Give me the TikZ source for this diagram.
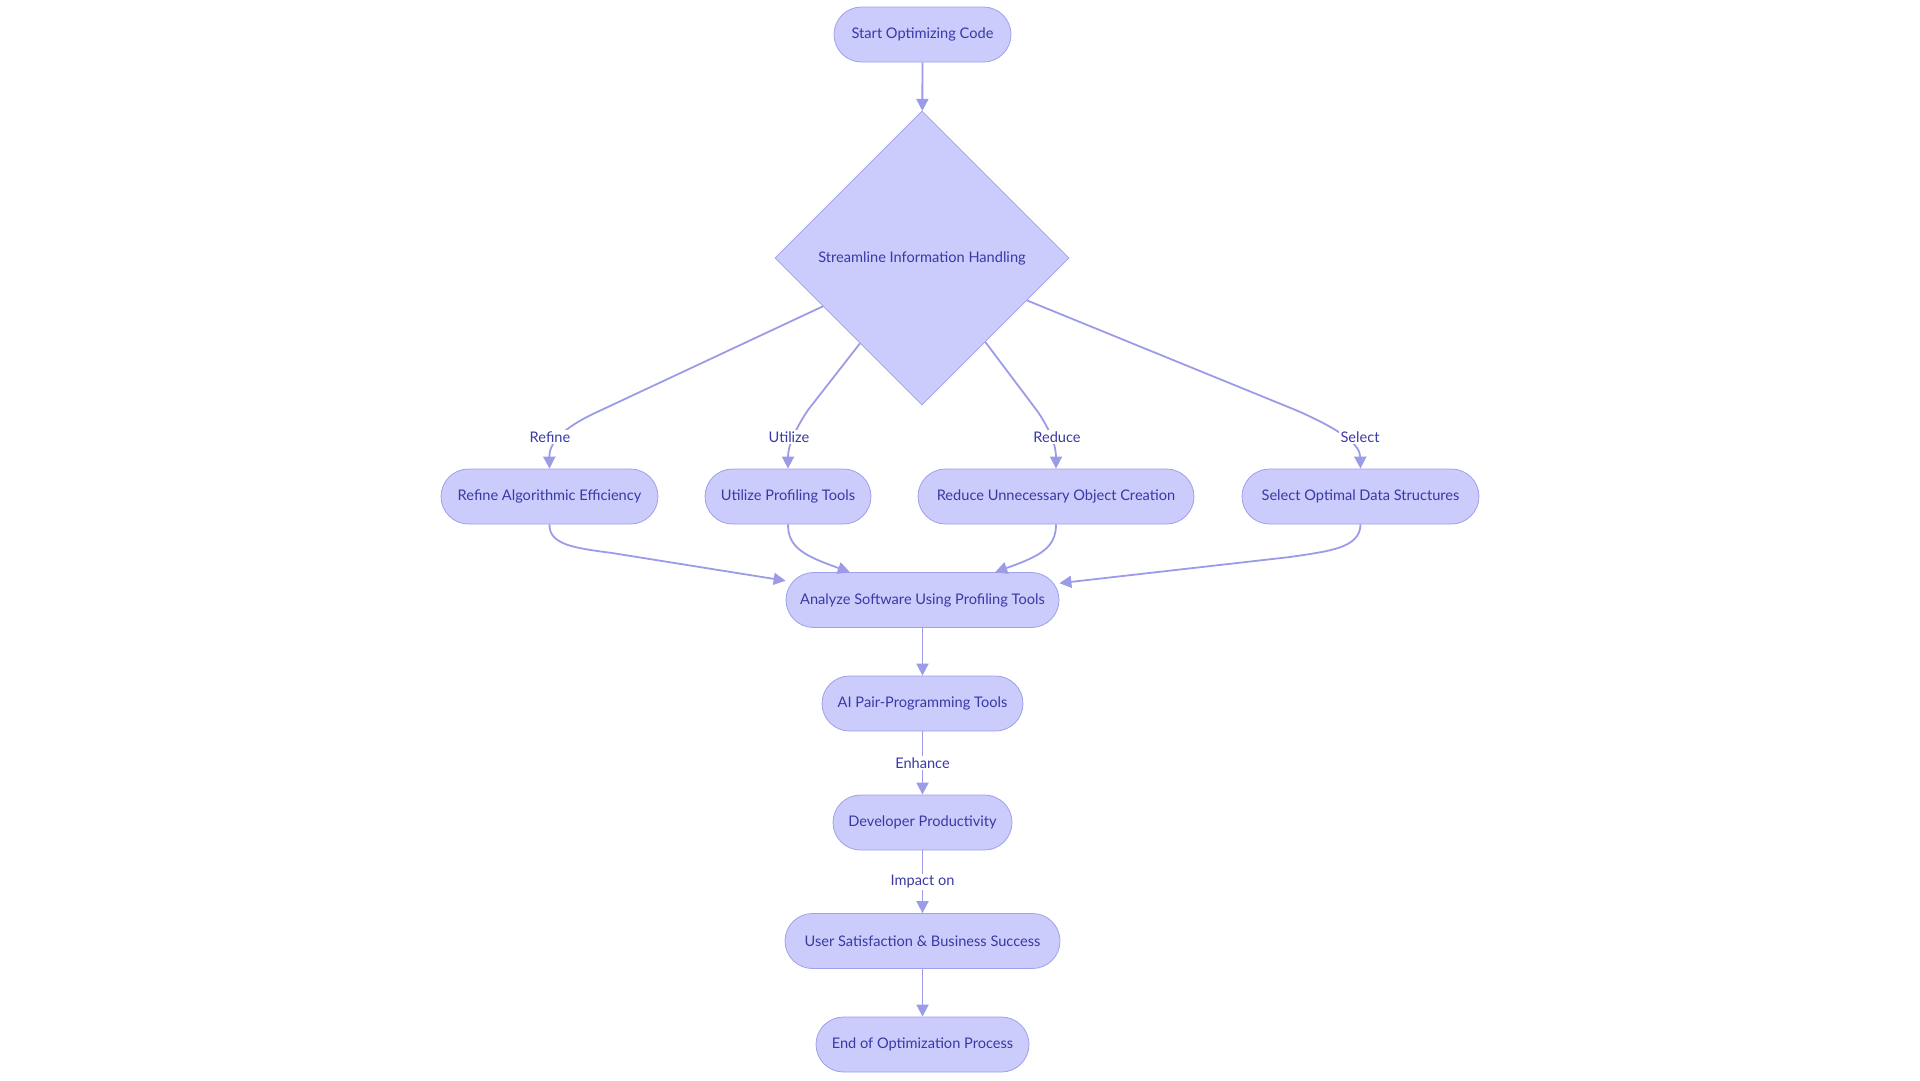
\documentclass[tikz,border=0pt]{standalone}
\usepackage{fontspec}
\setmainfont{Lato}
\usetikzlibrary{shapes.geometric,arrows.meta,calc}
\definecolor{nodefill}{RGB}{203,203,252}
\definecolor{nodeborder}{RGB}{160,160,235}
\definecolor{edgecol}{RGB}{155,155,232}
\definecolor{txtcol}{RGB}{57,57,165}
\tikzset{
  pill/.style={rectangle, rounded corners=27.5pt, fill=nodefill, draw=nodeborder, line width=0.8pt,
    minimum height=55pt, inner sep=0pt, text=txtcol, font=\fontsize{14.6}{18}\selectfont},
  decision/.style={diamond, aspect=1, fill=nodefill, draw=nodeborder, line width=0.8pt,
    minimum width=294pt, minimum height=294pt, inner sep=0pt, text=txtcol, font=\fontsize{14.6}{18}\selectfont},
  conn/.style={draw=edgecol, line width=1.8pt, -{Triangle[length=12pt,width=12pt]}},
  elabel/.style={fill=white, inner sep=1.5pt, text=txtcol, font=\fontsize{14.6}{18}\selectfont},
}
\begin{document}
\begin{tikzpicture}[x=1pt,y=-1pt]
\useasboundingbox (0,0) rectangle (1920,1080);
\node[pill, minimum width=177pt] (start) at (922.5,34.5) {\raisebox{-1pt}{Start Optimizing Code}};
\node[decision] (dec) at (922,258) {\raisebox{-1pt}{Streamline Information Handling}};
\node[pill, minimum width=217pt] (ref) at (549.5,496.5) {\raisebox{-1pt}{Refine Algorithmic Efficiency}};
\node[pill, minimum width=166pt] (uti) at (788,496.5) {\raisebox{-1pt}{Utilize Profiling Tools}};
\node[pill, minimum width=276pt] (red) at (1056,496.5) {\raisebox{-1pt}{Reduce Unnecessary Object Creation}};
\node[pill, minimum width=237pt] (sel) at (1360.5,496.5) {\raisebox{-1pt}{Select Optimal Data Structures}};
\node[pill, minimum width=273pt] (ana) at (922.5,600) {\raisebox{-1pt}{Analyze Software Using Profiling Tools}};
\node[pill, minimum width=201pt] (ai) at (922.5,703.5) {\raisebox{-1pt}{AI Pair-Programming Tools}};
\node[pill, minimum width=179pt] (dev) at (922.5,822.5) {\raisebox{-1pt}{Developer Productivity}};
\node[pill, minimum width=275pt] (usr) at (922.5,941) {\raisebox{-1pt}{User Satisfaction \& Business Success}};
\node[pill, minimum width=213pt] (end) at (922.5,1044.5) {\raisebox{-1pt}{End of Optimization Process}};

\draw[conn] (start) -- (dec);
\draw[conn] (dec.206) -- (595,413) .. controls (563,428) and (549,443) .. (ref.north);
\draw[conn] (dec.234) -- (808,410) .. controls (796,428) and (788,445) .. (uti.north);
\draw[conn] (dec.307) -- (1038,412) .. controls (1050,430) and (1056,445) .. (red.north);
\draw[conn] (dec.338) -- (1298,411) .. controls (1343,431) and (1360,445) .. (sel.north);

\node[elabel] (lref) at (550,437) {Refine};
\node[elabel] (luti) at (789,437) {Utilize};
\node[elabel] (lred) at (1057,437) {Reduce};
\node[elabel] (lsel) at (1360,437) {Select};

\draw[conn] (ref.south) .. controls (549,545) and (575,548) .. (612,553) -- (ana.172);
\draw[conn] (uti.south) .. controls (788,548) and (805,556) .. (ana.159);
\draw[conn] (red.south) .. controls (1056,548) and (1040,556) .. (ana.21);
\draw[conn] (sel.south) .. controls (1360,548) and (1330,551) .. (1290,557) -- (ana.7);

\draw[conn] (ana) -- (ai);
\draw[conn] (ai) -- (dev);
\draw[conn] (dev) -- (usr);
\draw[conn] (usr) -- (end);
\node[elabel] (lenh) at (922.5,763) {Enhance};
\node[elabel] (limp) at (922.5,882) {Impact on};
\end{tikzpicture}
\end{document}
